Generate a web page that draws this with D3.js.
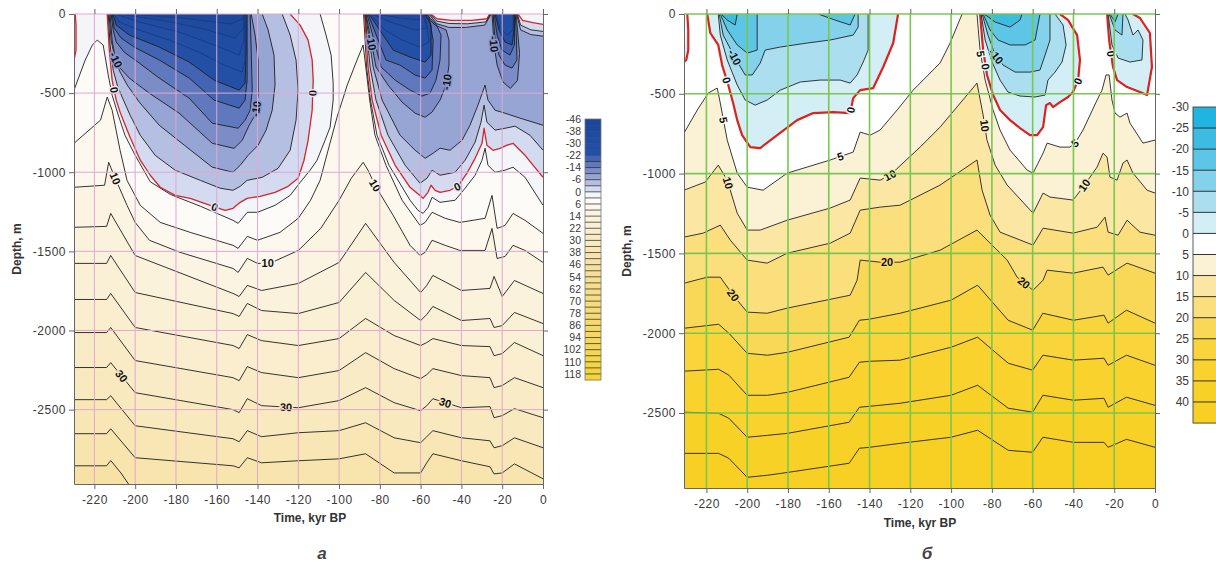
<!DOCTYPE html>
<html>
<head>
<meta charset="utf-8">
<script src="https://cdn.jsdelivr.net/npm/d3@7"></script>
<style>
  body { margin: 0; background: #fff; }
  text { font-family: "Liberation Sans", Arial, sans-serif; }
</style>
</head>
<body>
<svg id="fig" width="1216" height="564"></svg>
<script>
// ---------- axis ticks ----------
const ticksTime = [-220, -200, -180, -160, -140, -120, -100, -80, -60, -40, -20, 0];
const ticksDepth = [0, -500, -1000, -1500, -2000, -2500];

// ---------- panel a : contour levels / legend ----------
const levelsA = [-46,-42,-38,-34,-30,-26,-22,-18,-14,-10,-6,-2,0,2,6,10,14,18,22,26,30,34,38,42,46,50,54,58,62,66,70,74,78,82,86,90,94,98,102,106,110,114,118];
const legendLabelsA = [-46,-38,-30,-22,-14,-6,0,6,14,22,30,38,46,54,62,70,78,86,94,102,110,118];

// deep isotherms, panel a (depth, m, at shared times, kyr)
const tDeepA = [-230,-214,-212,-200,-152,-149,-145,-138,-120,-100,-87,-73,-60,-57,-54,-40,-26,-24,-20,-14,0];
const a38 = [-2652,-2652,-2621,-2804,-2855,-2868,-2804,-2836,-2823,-2811,-2779,-2900,-2900,-2836,-2779,-2823,-2861,-2906,-2900,-2843,-2937];
const a34 = [-2437,-2437,-2412,-2602,-2684,-2703,-2633,-2671,-2646,-2633,-2583,-2678,-2709,-2671,-2633,-2678,-2697,-2741,-2728,-2678,-2741];
const a30 = [-2234,-2234,-2203,-2393,-2500,-2519,-2431,-2475,-2488,-2443,-2361,-2456,-2507,-2475,-2431,-2488,-2481,-2551,-2538,-2494,-2551];
const a26 = [-2013,-2013,-1981,-2190,-2298,-2317,-2228,-2266,-2298,-2253,-2140,-2241,-2304,-2279,-2241,-2285,-2298,-2361,-2348,-2298,-2361];
const a22 = [-1804,-1804,-1766,-1981,-2095,-2114,-2026,-2064,-2095,-2051,-1924,-2032,-2095,-2076,-2051,-2095,-2102,-2159,-2146,-2076,-2159];
const a18 = [-1576,-1576,-1526,-1760,-1893,-1911,-1829,-1874,-1893,-1823,-1633,-1810,-1937,-1899,-1848,-1937,-1924,-1981,-1969,-1886,-1956];
const a14 = [-1348,-1342,-1260,-1526,-1766,-1785,-1715,-1747,-1703,-1570,-1323,-1570,-1760,-1715,-1652,-1747,-1734,-1658,-1785,-1684,-1766];

const a42 = [[-230,-2855],[-214,-2855],[-212,-2822],[-207,-2900],[-203,-2975],[-199,-3060],[0,-3060]];
const a10 = [[-230,-1095],[-215,-1082],[-213,-937],[-210,-1032],[-204,-1209],[-200,-1317],[-193,-1430],[-178,-1506],[-152,-1608],[-149.5,-1633],[-145,-1544],[-140,-1576],[-134,-1576],[-120,-1494],[-109,-1355],[-100,-1177],[-94,-1038],[-88.2,-937],[-85.8,-987],[-82.4,-1082],[-73.5,-1272],[-65.2,-1462],[-60.3,-1526],[-57.8,-1506],[-54.4,-1430],[-48,-1462],[-40.7,-1494],[-28.4,-1494],[-25,-1355],[-22.5,-1545],[-18.6,-1532],[-14.7,-1462],[-8.8,-1494],[0,-1570]];
const a6 = [[-230,-817],[-217,-671],[-213.7,-525],[-211.3,-608],[-207.4,-861],[-204,-1051],[-197.5,-1209],[-187.7,-1317],[-173,-1380],[-152,-1462],[-149.5,-1481],[-145,-1405],[-140,-1430],[-129,-1380],[-120,-1291],[-114,-1177],[-109.3,-1051],[-105.4,-861],[-101,-652],[-96,-449],[-91.2,-291],[-88.2,-196],[-87.3,-291],[-85,-544],[-82.4,-766],[-77,-956],[-69.1,-1177],[-60.3,-1336],[-57.8,-1317],[-54.4,-1253],[-48,-1291],[-40.7,-1317],[-28.4,-1291],[-25,-1146],[-22.5,-1355],[-18.6,-1336],[-14.7,-1260],[-8.8,-1304],[0,-1386]];
const a2w = [[-230,-481],[-224.5,-291],[-221,-196],[-218.6,-165],[-215.7,-196],[-213.2,-386],[-211.3,-513],[-208.3,-639],[-205,-766],[-200,-893],[-192.6,-1060],[-182.8,-1140],[-168,-1215],[-152,-1304],[-149.5,-1323],[-145,-1253],[-140,-1253],[-131.4,-1209],[-124,-1146],[-119,-1063],[-114.2,-987],[-110.8,-924],[-106.9,-798],[-104.4,-715],[-102.9,-544],[-102.9,-437],[-103.9,-260],[-106.4,-133],[-109.3,0]];
const a2e = [[-88,0],[-86.5,-335],[-84.6,-544],[-81.4,-766],[-75.5,-956],[-65.2,-1177],[-61.3,-1241],[-58.8,-1260],[-56.4,-1222],[-54.4,-1158],[-50.5,-1190],[-43.1,-1177],[-38.2,-1101],[-33.3,-1019],[-29.9,-924],[-28.4,-848],[-27,-956],[-23.5,-1000],[-18.6,-987],[-14.7,-968],[-8.8,-1032],[0,-1209]];

// zero isotherm, panel a
const a0edge = [[-229.4,0],[-229,-70],[-229,-228],[-230,-291]];
const a0A = [[-213.7,0],[-212.7,-228],[-211.3,-418],[-209.3,-544],[-207.4,-620],[-204.9,-703],[-202.5,-779],[-197.5,-924],[-192.6,-1019],[-187.7,-1095],[-180.4,-1146],[-173,-1165],[-163.2,-1209],[-155.9,-1241],[-152,-1228],[-148.5,-1190],[-145.1,-1165],[-138.7,-1152],[-131.4,-1127],[-125,-1089],[-120.1,-1038],[-117.2,-924],[-115.2,-798],[-113.2,-608],[-112.7,-418],[-113.2,-291],[-115.2,-165],[-119.1,-70],[-124,0]];
const a0B = [[-87.5,0],[-85.8,-335],[-83.8,-544],[-79.4,-766],[-72.5,-956],[-65.2,-1095],[-58.8,-1165],[-56.4,-1127],[-54.9,-1082],[-52.9,-1114],[-50.5,-1127],[-45.6,-1114],[-41.7,-1089],[-37.3,-1006],[-33.3,-912],[-29.9,-817],[-28.9,-722],[-27.5,-829],[-24.5,-861],[-21.1,-849],[-17.6,-829],[-14.7,-817],[-8.8,-893],[0,-1032]];
const a0Bt1 = [[0,-65],[-5,-55],[-10,-40],[-12.3,0]];
const a0Bt2 = [[-26.2,0],[-27.5,-30],[-35,-40],[-45,-40],[-52,-30],[-55,0]];

// negative isotherms, panel a (bowls A, B, C)
const am2A = [[-213.2,0],[-212.3,-196],[-210.8,-354],[-208.8,-449],[-206.4,-525],[-202.5,-639],[-197.5,-766],[-190.2,-893],[-180.4,-987],[-168.1,-1051],[-158.3,-1101],[-152,-1114],[-148.5,-1089],[-145.1,-1051],[-137.7,-1032],[-129.9,-975],[-124,-861],[-121.1,-671],[-120.1,-481],[-121.1,-291],[-124,-133],[-127.9,0]];
const am2B = [[-87.3,0],[-84.8,-335],[-81.9,-544],[-76,-766],[-67.6,-956],[-60.3,-1070],[-56.9,-1038],[-54.4,-987],[-50.5,-1019],[-43.1,-1000],[-38.2,-924],[-33.3,-810],[-30.4,-684],[-28.9,-576],[-27.5,-684],[-23.5,-734],[-18.6,-722],[-13.7,-709],[-6.4,-766],[0,-861]];
const am2Bt1 = [[0,-110],[-6,-100],[-11,-70],[-12.6,0]];
const am2Bt2 = [[-25.8,0],[-28,-50],[-37,-62],[-46,-60],[-52,-45],[-55.5,0]];
const am6A = [[-212.8,0],[-211.8,-165],[-209.8,-291],[-207.4,-367],[-203.9,-449],[-198,-557],[-188.2,-703],[-175.9,-829],[-162.2,-968],[-152,-1000],[-148.5,-956],[-144.6,-893],[-139.7,-829],[-135.8,-734],[-132.8,-608],[-131.4,-449],[-131.9,-260],[-134.8,-101],[-137.7,0]];
const am6B = [[-87,0],[-83.3,-335],[-78.9,-544],[-70.1,-766],[-62.7,-861],[-57.8,-912],[-53.9,-880],[-50.5,-848],[-45.6,-861],[-39.7,-798],[-35.8,-703],[-31.9,-576],[-28.4,-449],[-27,-544],[-23.5,-608],[-18.6,-627],[-11.3,-658],[0,-703]];
const am6Bt1 = [[0,-140],[-6,-130],[-11,-100],[-12.9,0]];
const am6Bt2 = [[-25.4,0],[-28.5,-70],[-38,-85],[-46,-85],[-52,-62],[-56,0]];
const am10A = [[-212.3,0],[-211.3,-165],[-209.8,-278],[-207.4,-342],[-202.9,-405],[-193.1,-500],[-178.4,-627],[-162.2,-817],[-151.5,-849],[-147.5,-798],[-144.1,-703],[-141.2,-639],[-139.7,-513],[-139.7,-291],[-141.2,-133],[-143.1,0]];
const am10B = [[-86.8,0],[-81.9,-335],[-76,-449],[-69.1,-557],[-62.7,-627],[-57.8,-652],[-54.4,-620],[-50.5,-544],[-47.5,-449],[-46.1,-323],[-46.1,-165],[-47.5,-101],[-52.9,-70],[-55.5,-38],[-56.5,0]];
const am10C = [[-25,0],[-24,-196],[-22.5,-323],[-19.6,-430],[-16,-470],[-12.5,-420],[-11.5,-250],[-12.5,-100],[-13.2,0]];
const am14A = [[-211.8,0],[-210.8,-101],[-209.3,-177],[-205.4,-241],[-198,-310],[-188.2,-405],[-173.5,-532],[-162.2,-690],[-149.5,-722],[-146.1,-671],[-143.6,-608],[-142.6,-481],[-143.1,-228],[-143.6,0]];
const am14B = [[-86.3,0],[-79.4,-335],[-72.5,-418],[-65.2,-481],[-59.3,-519],[-55.4,-500],[-52.5,-418],[-50.5,-291],[-50,-133],[-52.5,-63],[-55.5,-25],[-57,0]];
const am14C = [[-24.5,0],[-23.5,-165],[-21.6,-260],[-18.6,-323],[-15.2,-342],[-12.8,-291],[-13,-165],[-13.6,0]];
const am18A = [[-211.3,0],[-210.3,-89],[-206.9,-152],[-200.5,-209],[-188.2,-291],[-173.5,-405],[-161.3,-544],[-149,-595],[-146.1,-544],[-145.1,-418],[-145.1,-165],[-145.1,0]];
const am18B = [[-85.8,0],[-77,-291],[-70.1,-323],[-62.7,-386],[-57.8,-405],[-54.4,-354],[-53.9,-165],[-55.4,-51],[-57.5,0]];
const am18C = [[-24,0],[-22.5,-133],[-20.1,-228],[-16.2,-260],[-14,-196],[-14,0]];
const am22A = [[-210.8,0],[-209.3,-70],[-202.9,-133],[-188.2,-209],[-173.5,-304],[-161.3,-418],[-149,-481],[-146.1,-437],[-145.6,-228],[-145.6,0]];
const am22B = [[-85.3,0],[-73.5,-228],[-65.2,-272],[-57.8,-304],[-54.9,-260],[-54.9,-70],[-58,0]];
const am22C = [[-23.5,0],[-21.6,-101],[-18.6,-177],[-15.2,-196],[-14.2,-101],[-14.3,0]];
const am26A = [[-210.3,0],[-207.8,-51],[-198,-101],[-183.3,-165],[-168.6,-241],[-156.4,-323],[-147.5,-367],[-146.1,-291],[-146.1,0]];
const am26B = [[-84.8,0],[-77.5,-101],[-69.1,-165],[-60.3,-209],[-55.9,-177],[-57,-60],[-58.5,0]];
const am26C = [[-23,0],[-21.1,-89],[-17.6,-133],[-14.7,-101],[-14.6,0]];
const am30A = [[-209.8,0],[-198,-51],[-178.4,-114],[-161.3,-196],[-149,-260],[-146.6,-165],[-146.6,0]];
const am30B = [[-83.8,0],[-75,-51],[-62.7,-101],[-56.9,-89],[-59,0]];
const am34A = [[-208.3,0],[-187.7,-38],[-168.1,-89],[-151,-152],[-146.8,-89],[-146.8,0]];
const am34B = [[-81.9,0],[-70.1,-25],[-60.3,-38],[-59.5,0]];
const am38A = [[-204.4,0],[-177.5,-25],[-153,-63],[-147,-30],[-147,0]];

// contour labels, panel a: [text, level, time, depth]
const labelsA = [
  ["0", 0, -210.5, -481], ["-10", -10, -209.5, -290], ["0", 0, -161, -1220],
  ["-10", -10, -140.5, -600], ["0", 0, -112.8, -500], ["10", 10, -210, -1040],
  ["10", 10, -82.5, -1085], ["10", 10, -135, -1576], ["30", 30, -207, -2290],
  ["30", 30, -126, -2484], ["30", 30, -48, -2458], ["-10", -10, -47, -430],
  ["0", 0, -42, -1092], ["-10", -10, -84.5, -180], ["-10", -10, -24.2, -190]
];

// ---------- panel b ----------
const levelsB = [-30,-25,-20,-15,-10,-5,0,5,10,15,20,25,30,35,40];
const legendLabelsB = [-30,-25,-20,-15,-10,-5,0,5,10,15,20,25,30,35,40];

const tDeepB = [-231,-214,-209,-200,-190,-180,-150,-145,-140,-125,-100,-87,-72,-60,-55,-40,-25,-23,-14,0];
const b40 = [-2753,-2753,-2784,-2903,-2890,-2872,-2815,-2721,-2715,-2690,-2652,-2608,-2734,-2746,-2652,-2684,-2684,-2715,-2665,-2715];
const b35 = [-2495,-2502,-2533,-2652,-2640,-2627,-2558,-2464,-2458,-2439,-2389,-2326,-2470,-2495,-2389,-2420,-2408,-2464,-2401,-2452];
const b30 = [-2238,-2226,-2263,-2389,-2389,-2370,-2276,-2182,-2176,-2169,-2088,-2025,-2188,-2232,-2138,-2169,-2157,-2201,-2138,-2201];
const b25 = [-1969,-1944,-2000,-2126,-2138,-2119,-2025,-1919,-1912,-1875,-1793,-1699,-1919,-1981,-1875,-1919,-1887,-1937,-1856,-1937];

const b20 = [[-231,-1687],[-219.6,-1649],[-213.2,-1649],[-206.9,-1762],[-200,-1868],[-190.2,-1875],[-180.4,-1843],[-149.5,-1762],[-146.1,-1668],[-144.6,-1542],[-134.8,-1555],[-125,-1555],[-105.4,-1480],[-87.3,-1354],[-72.5,-1542],[-67.6,-1649],[-59.8,-1731],[-54.9,-1668],[-52.9,-1605],[-40.2,-1624],[-25.5,-1586],[-23,-1636],[-13.7,-1561],[0,-1624]];
const b15 = [[-231,-1398],[-221.6,-1373],[-213.2,-1323],[-208.3,-1417],[-200,-1542],[-190.2,-1561],[-180.4,-1499],[-159.3,-1436],[-149.5,-1373],[-144.6,-1229],[-134.8,-1210],[-125,-1198],[-105.4,-1072],[-87.3,-915],[-84.8,-1104],[-80.9,-1260],[-76,-1367],[-59.8,-1448],[-54.9,-1342],[-40.2,-1373],[-28.4,-1336],[-24.5,-1273],[-23,-1367],[-18.1,-1386],[-13.7,-1292],[-7.4,-1367],[0,-1386]];
const b10 = [[-231,-1104],[-220.6,-1053],[-214.2,-947],[-209.8,-1041],[-204.9,-1248],[-200,-1354],[-193.6,-1354],[-180.4,-1292],[-159.3,-1216],[-149.5,-1166],[-144.6,-1028],[-134.8,-1041],[-129.9,-1009],[-115.2,-834],[-105.4,-709],[-87.3,-433],[-84.3,-633],[-82.4,-790],[-78.4,-947],[-72.5,-1072],[-59.8,-1248],[-54.9,-1122],[-51.5,-1147],[-40.2,-1166],[-35.3,-1085],[-28.4,-959],[-25.5,-872],[-23.5,-897],[-22.1,-1022],[-18.6,-1041],[-15.7,-934],[-13.7,-915],[-10.8,-997],[-3.9,-1104],[0,-1122]];
const b5w = [[-231,-746],[-224.5,-602],[-219.1,-495],[-214.7,-464],[-213.2,-558],[-209.8,-790],[-204.9,-997],[-200,-1085],[-192.2,-1104],[-180.4,-997],[-170.6,-959],[-159.3,-915],[-148,-865],[-144.6,-740],[-139.7,-759],[-134.8,-727],[-126.5,-602],[-118.6,-477],[-105.4,-307],[-100.5,-182],[-94.6,0]];
const b5e = [[-87.3,0],[-85.8,-226],[-83.3,-414],[-79.4,-602],[-76,-727],[-71.1,-853],[-62.7,-978],[-59.8,-997],[-54.9,-872],[-52.9,-809],[-46.6,-834],[-41.7,-834],[-39.2,-809],[-35.3,-727],[-28.4,-539],[-26,-477],[-24,-382],[-22.5,-382],[-21.1,-539],[-19.6,-621],[-17.2,-646],[-13.7,-621],[-12.3,-683],[-5.9,-809],[0,-790]];
const b0edge = [[-229.4,0],[-228.9,-100],[-228.9,-226],[-229.9,-288],[-231,-301]];
const b0A = [[-219.6,0],[-218.1,-119],[-214.2,-194],[-212.3,-320],[-209.3,-445],[-206.9,-558],[-204.9,-665],[-202.5,-759],[-198.5,-834],[-193.6,-840],[-185.3,-759],[-175.5,-665],[-167.6,-621],[-157.8,-615],[-149.5,-621],[-148,-527],[-144.6,-477],[-138.2,-464],[-133.3,-332],[-128.4,-182],[-126,0]];
const b0B = [[-85.8,0],[-84.3,-226],[-82.4,-382],[-79.4,-508],[-76,-602],[-71.1,-665],[-66.2,-715],[-61.3,-759],[-57.8,-759],[-54.9,-709],[-53.4,-571],[-51.5,-558],[-50,-583],[-46.6,-552],[-42.6,-520],[-40.2,-489],[-37.7,-414],[-36.8,-288],[-38.2,-132],[-42.6,-38],[-46.6,0]];
const b0C = [[-23.5,0],[-22.5,-163],[-20.6,-332],[-18.6,-414],[-13.7,-458],[-7.4,-489],[-3.9,-508],[-1.5,-332],[-2.5,-119],[-7.4,-25],[-10.8,0]];
const bm5A = [[-214.2,0],[-213.2,-132],[-209.8,-288],[-204.9,-445],[-201,-539],[-196.1,-571],[-190.2,-539],[-183.8,-477],[-174,-426],[-164.2,-414],[-154.4,-414],[-149.5,-433],[-146.1,-382],[-143.1,-301],[-140.7,-226],[-140.7,0]];
const bm5B = [[-85.3,0],[-83.3,-163],[-79.9,-301],[-76,-414],[-72.1,-489],[-66.2,-514],[-58.8,-520],[-53.9,-508],[-52.5,-414],[-49,-364],[-45.6,-301],[-43.6,-194],[-45.1,-69],[-49,0]];
const bm5C = [[-23,0],[-21.1,-194],[-18.1,-276],[-12.3,-301],[-6.4,-288],[-5.9,-163],[-8.3,-100],[-10.8,-132],[-13.2,-38],[-14.7,0]];
const bm10A = [[-213.7,0],[-211.8,-132],[-205.9,-276],[-201,-382],[-197.5,-382],[-193.6,-307],[-191.2,-226],[-183.8,-207],[-170.6,-182],[-159.3,-163],[-148,-132],[-145.6,-82],[-145.6,0]];
const bm10B = [[-84.8,0],[-81.9,-132],[-78.4,-257],[-74.5,-320],[-68.6,-364],[-61.3,-364],[-56.4,-351],[-53.9,-257],[-51.5,-163],[-51.5,0]];
const bm10C = [[-22.5,0],[-19.6,-100],[-16.2,-132],[-15.7,0]];
const bm15A1 = [[-213.2,0],[-209.8,-100],[-204.9,-194],[-200,-245],[-195.1,-226],[-195.1,0]];
const bm15A2 = [[-165.2,0],[-156.9,-38],[-149.5,-69],[-147.1,0]];
const bm15B = [[-84.3,0],[-80.9,-100],[-77,-163],[-71.1,-194],[-63.7,-194],[-58.8,-163],[-56.4,0]];
const bm15C = [[-22.1,0],[-19.6,-50],[-18.1,0]];
const bm20A = [[-212.8,0],[-209.8,-38],[-205.9,-69],[-204.9,0]];
const bm20B = [[-83.8,0],[-78.4,-50],[-71.1,-82],[-66.2,-38],[-65.2,0]];

const labelsB = [
  ["0", 0, -211.3, -420], ["-10", -10, -206, -270], ["5", 5, -211.8, -665],
  ["0", 0, -149.5, -600], ["5", 5, -154.4, -890], ["10", 10, -209.8, -1060],
  ["10", 10, -130, -1009], ["20", 20, -206.9, -1762], ["20", 20, -131.4, -1555],
  ["20", 20, -64.7, -1690], ["5", 5, -85.5, -250], ["0", 0, -83, -330],
  ["-10", -10, -78.4, -270], ["10", 10, -83.3, -700], ["0", 0, -38, -420],
  ["5", 5, -39.2, -809], ["10", 10, -33.3, -1085], ["0", 0, -22, -250]
];

// ---------- helpers ----------
const pair = (ts, ds) => ts.map((t, i) => [t, ds[i]]);

const contoursA = [
  [42, [a42]], [38, [pair(tDeepA, a38)]], [34, [pair(tDeepA, a34)]], [30, [pair(tDeepA, a30)]],
  [26, [pair(tDeepA, a26)]], [22, [pair(tDeepA, a22)]], [18, [pair(tDeepA, a18)]], [14, [pair(tDeepA, a14)]],
  [10, [a10]], [6, [a6]], [2, [a2w, a2e]],
  [0, [a0edge]], [0, [a0A]], [0, [a0B, a0Bt1, a0Bt2]],
  [-2, [am2A]], [-2, [am2B, am2Bt1, am2Bt2]],
  [-6, [am6A]], [-6, [am6B, am6Bt1, am6Bt2]],
  [-10, [am10A]], [-10, [am10B]], [-10, [am10C]],
  [-14, [am14A]], [-14, [am14B]], [-14, [am14C]],
  [-18, [am18A]], [-18, [am18B]], [-18, [am18C]],
  [-22, [am22A]], [-22, [am22B]], [-22, [am22C]],
  [-26, [am26A]], [-26, [am26B]], [-26, [am26C]],
  [-30, [am30A]], [-30, [am30B]], [-34, [am34A]], [-34, [am34B]], [-38, [am38A]]
];
const contoursB = [
  [40, [pair(tDeepB, b40)]], [35, [pair(tDeepB, b35)]], [30, [pair(tDeepB, b30)]], [25, [pair(tDeepB, b25)]],
  [20, [b20]], [15, [b15]], [10, [b10]], [5, [b5w, b5e]],
  [0, [b0edge]], [0, [b0A]], [0, [b0B]], [0, [b0C]],
  [-5, [bm5A]], [-5, [bm5B]], [-5, [bm5C]],
  [-10, [bm10A]], [-10, [bm10B]], [-10, [bm10C]],
  [-15, [bm15A1, bm15A2]], [-15, [bm15B]], [-15, [bm15C]],
  [-20, [bm20A]], [-20, [bm20B]]
];

const colorA = d3.scaleLinear()
  .domain([-46,-24,-20,-16,-12,-8,-4,-1,1,4,8,12,20,28,36,44,80,118])
  .range(["#1b4799","#2350a5","#4264b3","#6078bd","#7b8cc7","#97a5d4","#b5bfe2","#d4daef","#f4f5f9","#fcfbf7","#fcf8ee","#fbf4e3","#faf0d5","#f9ebc6","#f8e6b5","#f7e1a4","#f5da72","#f3d43c"])
  .clamp(true);
const colorB = d3.scaleLinear()
  .domain([-27.5,-22.5,-17.5,-12.5,-7.5,-2.5,2.5,7.5,12.5,17.5,22.5,27.5,32.5,37.5,42.5])
  .range(["#20b4e0","#3dbce2","#5dc5e5","#83d1ea","#abdeef","#d4eef6","#ffffff","#fbf1d4","#fbe6a3","#fbdf7c","#fad857","#f9d43a","#f9d22d","#f8d127","#f8d023"])
  .clamp(true);

const svg = d3.select("#fig");
const defs = svg.append("defs");

function panel(o) {
  const x = d3.scaleLinear().domain([o.tmin, 0]).range([o.left, o.right]);
  const y = d3.scaleLinear().domain([0, o.dmin]).range([o.top, o.bottom]);
  const g = svg.append("g");
  const clipId = "clip-" + o.name;
  defs.append("clipPath").attr("id", clipId).append("rect")
    .attr("x", o.left).attr("y", o.top)
    .attr("width", o.right - o.left).attr("height", o.bottom - o.top);
  const plot = g.append("g").attr("clip-path", `url(#${clipId})`);

  const lv = o.levels;
  const below = L => { const i = lv.indexOf(L); return o.color((lv[i - 1] + L) / 2); };
  const groups = o.contours.slice().sort((a, b) => b[0] - a[0]);
  const warm = groups[0][0], wi = lv.indexOf(warm);
  const nextUp = lv[wi + 1] !== undefined ? lv[wi + 1] : warm + (warm - lv[wi - 1]);

  plot.append("rect")
    .attr("x", o.left).attr("y", o.top)
    .attr("width", o.right - o.left).attr("height", o.bottom - o.top)
    .attr("fill", o.color((warm + nextUp) / 2));

  const line = d3.line().x(p => x(p[0])).y(p => y(p[1]));

  // fills: region colder than each level, painted warm to cold
  groups.forEach(([L, parts]) => {
    const pts = parts.flat();
    if (pts[0][0] <= o.tmin) pts.unshift([o.tmin, 0]);
    if (pts[pts.length - 1][0] >= 0) pts.push([0, 0]);
    plot.append("path").attr("d", line(pts) + "Z").attr("fill", below(L));
  });

  // grid
  const grid = g.append("g").attr("stroke", o.gridColor).attr("stroke-width", o.gridWidth);
  ticksTime.filter(t => t > o.tmin && t < 0).forEach(t => {
    grid.append("line").attr("x1", x(t)).attr("x2", x(t)).attr("y1", o.top).attr("y2", o.bottom);
  });
  ticksDepth.forEach(d => {
    grid.append("line").attr("x1", o.left).attr("x2", o.right).attr("y1", y(d)).attr("y2", y(d));
  });

  // isolines (lines inside the darkest cores are drawn in deep blue)
  groups.forEach(([L, parts]) => {
    const stroke = L === 0 ? o.red : (L <= o.darkLevel ? o.darkInk : o.ink);
    parts.forEach(part => {
      plot.append("path").attr("d", line(part)).attr("fill", "none")
        .attr("stroke", stroke)
        .attr("stroke-width", L === 0 ? o.redWidth : o.lineWidth)
        .attr("stroke-linejoin", "round");
    });
  });

  // labels placed on their isoline
  o.labels.forEach(([txt, L, t, d]) => {
    const px = x(t), py = y(d);
    let best = null;
    o.contours.filter(c => c[0] === L).forEach(c => c[1].forEach(part => {
      for (let i = 0; i < part.length - 1; i++) {
        const ax = x(part[i][0]), ay = y(part[i][1]);
        const bx = x(part[i + 1][0]), by = y(part[i + 1][1]);
        const dx = bx - ax, dy = by - ay, len2 = dx * dx + dy * dy || 1;
        let u = ((px - ax) * dx + (py - ay) * dy) / len2;
        u = Math.max(0, Math.min(1, u));
        const qx = ax + u * dx, qy = ay + u * dy;
        const dist = (qx - px) ** 2 + (qy - py) ** 2;
        if (!best || dist < best.dist) best = { dist, qx, qy, ang: Math.atan2(dy, dx) * 180 / Math.PI };
      }
    }));
    let a = best.ang;
    if (a > 90) a -= 180;
    if (a < -90) a += 180;
    plot.append("text")
      .attr("transform", `translate(${best.qx},${best.qy}) rotate(${a})`)
      .attr("text-anchor", "middle").attr("dy", "0.36em")
      .attr("font-size", 11).attr("font-weight", "bold").attr("fill", "#111")
      .attr("stroke", o.color(L)).attr("stroke-width", 3).attr("paint-order", "stroke")
      .text(txt);
  });

  // axes
  const fmt = d => String(d);
  const styleAxis = sel => {
    sel.selectAll("path.domain").attr("stroke", "#666");
    sel.selectAll(".tick line").attr("stroke", "#666");
    sel.selectAll(".tick text").attr("fill", "#3a3a3a").attr("font-size", 12)
      .attr("font-family", "Liberation Sans, Arial, sans-serif").attr("letter-spacing", "0.5px");
  };
  g.append("g").attr("transform", `translate(0,${o.bottom})`)
    .call(d3.axisBottom(x).tickValues(ticksTime).tickSize(5).tickSizeOuter(0).tickFormat(fmt).tickPadding(6))
    .call(styleAxis);
  g.append("g").attr("transform", `translate(${o.left},0)`)
    .call(d3.axisLeft(y).tickValues(ticksDepth).tickSize(5).tickSizeOuter(0).tickFormat(fmt).tickPadding(3))
    .call(styleAxis);
  g.append("g").attr("transform", `translate(0,${o.top})`)
    .call(d3.axisTop(x).tickValues(ticksTime).tickSize(5).tickSizeOuter(0).tickFormat(""))
    .call(styleAxis).call(s => s.select("path.domain").attr("stroke", "none"));
  g.append("g").attr("transform", `translate(${o.right},0)`)
    .call(d3.axisRight(y).tickValues(ticksDepth).tickSize(5).tickSizeOuter(0).tickFormat(""))
    .call(styleAxis);

  g.append("text")
    .attr("transform", `translate(${o.ylabelX},${(o.top + o.bottom) / 2}) rotate(-90)`)
    .attr("text-anchor", "middle").attr("font-size", 12).attr("font-weight", "bold").attr("fill", "#333")
    .text("Depth, m");
  g.append("text")
    .attr("x", o.xlabelX).attr("y", o.xlabelY)
    .attr("text-anchor", "middle").attr("font-size", 12).attr("font-weight", "bold").attr("fill", "#333")
    .text("Time, kyr BP");
  g.append("text")
    .attr("x", o.tagX).attr("y", 559)
    .attr("text-anchor", "middle").attr("font-size", 17).attr("font-weight", "bold")
    .attr("font-style", "italic").attr("fill", "#444")
    .text(o.tag);
}

function legend(o) {
  const g = svg.append("g");
  const n = o.bounds.length;
  o.bounds.forEach((b, i) => {
    const next = i < n - 1 ? o.bounds[i + 1] : b + (b - o.bounds[i - 1]);
    g.append("rect")
      .attr("x", o.x).attr("y", o.top + i * o.boxH)
      .attr("width", o.width).attr("height", o.boxH + 0.3)
      .attr("fill", o.color((b + next) / 2));
  });
  o.bounds.forEach((b, i) => {
    if (i === 0) return;
    g.append("line")
      .attr("x1", o.x).attr("x2", o.x + o.width)
      .attr("y1", o.top + i * o.boxH).attr("y2", o.top + i * o.boxH)
      .attr("stroke", b <= o.darkLevel ? o.darkSep : o.sep).attr("stroke-width", o.sepWidth);
  });
  g.append("rect")
    .attr("x", o.x).attr("y", o.top).attr("width", o.width).attr("height", n * o.boxH)
    .attr("fill", "none").attr("stroke", o.frame).attr("stroke-width", 0.8);
  o.labels.forEach(v => {
    const i = o.bounds.indexOf(v);
    g.append("text")
      .attr("x", o.x - 4).attr("y", o.top + i * o.boxH).attr("dy", "0.36em")
      .attr("text-anchor", "end").attr("font-size", o.fontSize).attr("fill", "#3a3a3a")
      .text(String(v));
  });
}

panel({
  name: "a", tmin: -230, dmin: -2970, left: 74, right: 543, top: 14, bottom: 484,
  levels: levelsA, color: colorA, contours: contoursA, labels: labelsA,
  gridColor: "#dfa8d0", gridWidth: 1, red: "#d2262a", redWidth: 1.3,
  ink: "#1e1e1e", darkInk: "#163a86", darkLevel: -26, lineWidth: 0.9,
  ylabelX: 21, xlabelX: 310, xlabelY: 522, tagX: 322, tag: "а"
});
panel({
  name: "b", tmin: -231, dmin: -2970, left: 684, right: 1155, top: 14, bottom: 488,
  levels: levelsB, color: colorB, contours: contoursB, labels: labelsB,
  gridColor: "#78c850", gridWidth: 1.6, red: "#d8231f", redWidth: 2.2,
  ink: "#222", darkInk: "#222", darkLevel: -99, lineWidth: 0.9,
  ylabelX: 631, xlabelX: 920, xlabelY: 527, tagX: 927, tag: "б"
});

legend({ x: 585, top: 119, boxH: 6.07, width: 16, bounds: levelsA, labels: legendLabelsA,
  color: colorA, sep: "#222", darkSep: "#1d4590", darkLevel: -22, sepWidth: 0.7, frame: "#777", fontSize: 10.5 });
legend({ x: 1193, top: 107, boxH: 21.07, width: 30, bounds: levelsB, labels: legendLabelsB,
  color: colorB, sep: "#333", darkSep: "#333", darkLevel: -99, sepWidth: 1, frame: "#333", fontSize: 12 });
</script>
</body>
</html>
